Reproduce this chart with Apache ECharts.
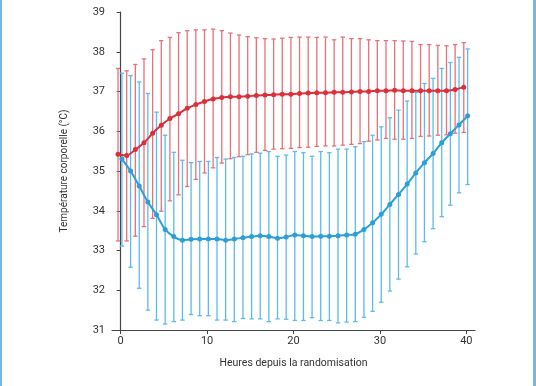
<!DOCTYPE html>
<html>
<head>
<meta charset="utf-8">
<script src="https://cdn.jsdelivr.net/npm/echarts@6/dist/echarts.min.js"></script>
<style>
html,body{margin:0;padding:0;background:#fff;}
#wrap{position:relative;width:536px;height:386px;box-sizing:border-box;border-left:2px solid #74b6e4;border-right:3px solid #74b6e4;}
#chart{position:absolute;left:-2px;top:0;width:536px;height:386px;}
</style>
</head>
<body>
<div id="wrap"><div id="chart"></div></div>
<script>
const hours = [0,1,2,3,4,5,6,7,8,9,10,11,12,13,14,15,16,17,18,19,20,21,22,23,24,25,26,27,28,29,30,31,32,33,34,35,36,37,38,39,40];
const xTicks = [0,10,20,30,40];

const redMean  = [35.42,35.39,35.54,35.71,35.95,36.15,36.32,36.44,36.58,36.67,36.75,36.81,36.85,36.87,36.87,36.88,36.90,36.91,36.92,36.93,36.93,36.95,36.96,36.97,36.97,36.98,36.98,36.99,37.00,37.00,37.02,37.02,37.03,37.02,37.02,37.02,37.02,37.02,37.02,37.05,37.11];
const redUpper = [37.58,37.52,37.68,37.82,38.05,38.28,38.36,38.48,38.53,38.55,38.55,38.57,38.53,38.47,38.42,38.38,38.35,38.33,38.32,38.34,38.36,38.37,38.37,38.36,38.37,38.30,38.37,38.33,38.33,38.30,38.28,38.28,38.28,38.27,38.26,38.18,38.18,38.16,38.15,38.18,38.23];
const redLower = [33.24,33.24,33.36,33.60,33.81,33.99,34.25,34.40,34.61,34.79,34.95,35.08,35.20,35.31,35.36,35.41,35.47,35.52,35.55,35.56,35.57,35.59,35.60,35.62,35.63,35.63,35.65,35.67,35.69,35.75,35.78,35.82,35.80,35.80,35.82,35.87,35.88,35.90,35.91,35.95,35.97];

const blueMean  = [35.30,35.00,34.62,34.22,33.90,33.53,33.35,33.26,33.28,33.29,33.29,33.29,33.26,33.29,33.32,33.35,33.37,33.35,33.31,33.34,33.39,33.37,33.35,33.36,33.36,33.37,33.39,33.41,33.53,33.70,33.91,34.16,34.41,34.67,34.95,35.21,35.44,35.71,35.94,36.16,36.39];
const blueUpper = [37.46,37.40,37.24,36.95,36.48,35.90,35.47,35.27,35.21,35.24,35.24,35.34,35.30,35.34,35.37,35.43,35.45,35.49,35.37,35.40,35.49,35.46,35.37,35.49,35.46,35.55,35.55,35.61,35.74,35.90,36.11,36.34,36.53,36.76,36.98,37.20,37.33,37.58,37.73,37.86,38.07];
const blueLower = [33.11,32.58,32.05,31.50,31.25,31.15,31.21,31.25,31.39,31.36,31.36,31.25,31.25,31.21,31.29,31.28,31.28,31.21,31.28,31.27,31.24,31.24,31.31,31.24,31.24,31.18,31.20,31.21,31.32,31.47,31.70,31.98,32.28,32.59,32.91,33.22,33.55,33.85,34.14,34.45,34.66];

const RED_LINE = '#dc2f3a', RED_BAR = '#e8707a';
const BLUE_LINE = '#2c9fd8', BLUE_BAR = '#5cbce6';
const RED_SHIFT = -0.3, BLUE_SHIFT = 0.15;

function errData(low, high, shift){
  return hours.map((h,i)=>[h+shift, low[i], high[i]]);
}
function lineData(mean, shift){
  return hours.map((h,i)=>[h+shift, mean[i]]);
}
function errRender(color){
  return function(params, api){
    const x = api.value(0);
    const lo = api.coord([x, api.value(1)]);
    const hi = api.coord([x, api.value(2)]);
    const hw = 2.2;
    const st = {stroke: color, lineWidth: 1.3};
    return {type:'group', children:[
      {type:'line', shape:{x1:lo[0],y1:lo[1],x2:hi[0],y2:hi[1]}, style:st},
      {type:'line', shape:{x1:hi[0]-hw,y1:hi[1],x2:hi[0]+hw,y2:hi[1]}, style:st},
      {type:'line', shape:{x1:lo[0]-hw,y1:lo[1],x2:lo[0]+hw,y2:lo[1]}, style:st}
    ]};
  };
}

const chart = echarts.init(document.getElementById('chart'));
const axisCol = '#444';
chart.setOption({
  animation:false,
  backgroundColor:'transparent',
  grid:{left:112, right:61, top:12, bottom:56},
  xAxis:{
    type:'value', min:-1, max:41,
    name:'Heures depuis la randomisation', nameLocation:'middle', nameGap:28,
    nameTextStyle:{fontFamily:'Roboto', fontSize:10.5, color:'#333'},
    axisLine:{show:true, lineStyle:{color:axisCol, width:1.2}},
    axisTick:{show:true, length:4, lineStyle:{color:axisCol}, customValues:xTicks},
    axisLabel:{fontFamily:'Roboto', fontSize:11, color:'#333', margin:6, customValues:xTicks},
    splitLine:{show:false}
  },
  yAxis:{
    type:'value', min:31, max:39, interval:1,
    name:'Température corporelle (°C)', nameLocation:'middle', nameGap:43,
    nameTextStyle:{fontFamily:'Roboto', fontSize:10, color:'#333'},
    axisLine:{show:true, lineStyle:{color:axisCol, width:1.2}},
    axisTick:{show:true, length:4, lineStyle:{color:axisCol}},
    axisLabel:{fontFamily:'Roboto', fontSize:11, color:'#333', margin:7},
    splitLine:{show:false}
  },
  series:[
    {name:'Normothermie ET', type:'custom', renderItem:errRender(RED_BAR), data:errData(redLower, redUpper, RED_SHIFT), encode:{x:0,y:[1,2]}, z:1},
    {name:'Hypothermie ET', type:'custom', renderItem:errRender(BLUE_BAR), data:errData(blueLower, blueUpper, BLUE_SHIFT), encode:{x:0,y:[1,2]}, z:2},
    {name:'Hypothermie', type:'line', data:lineData(blueMean, BLUE_SHIFT), symbol:'circle', symbolSize:5, smooth:0.3,
      lineStyle:{color:BLUE_LINE, width:2}, itemStyle:{color:BLUE_LINE}, z:3},
    {name:'Normothermie', type:'line', data:lineData(redMean, RED_SHIFT), symbol:'circle', symbolSize:5, smooth:0.3,
      lineStyle:{color:RED_LINE, width:2}, itemStyle:{color:RED_LINE}, z:4}
  ]
});
</script>
</body>
</html>
